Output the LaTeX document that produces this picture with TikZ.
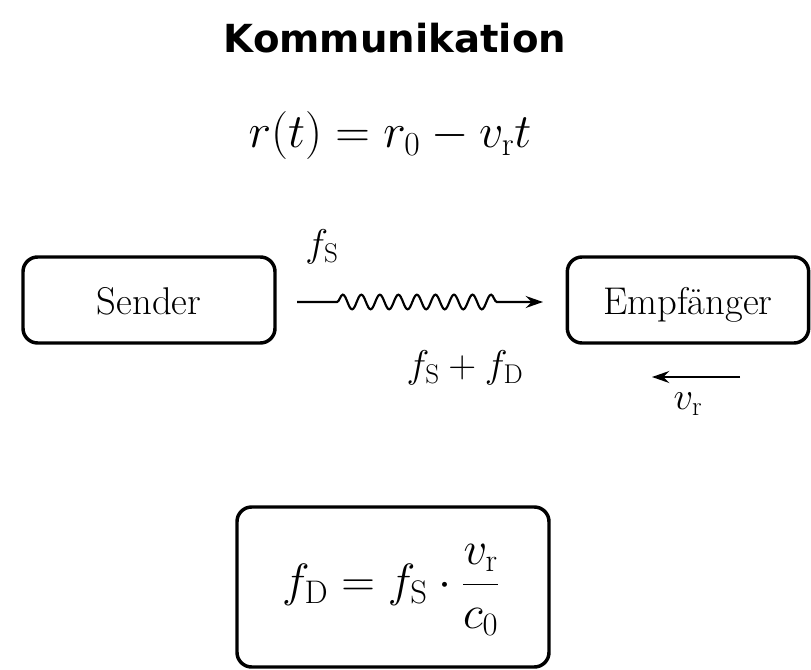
\RequirePackage{fix-cm}
\documentclass[tikz,border=0pt]{standalone}
\usepackage{fontspec}
\newfontfamily\titlefont{DejaVu Sans}
\usetikzlibrary{arrows.meta,decorations.pathmorphing}
\begin{document}
\begin{tikzpicture}[x=0.75pt,y=-0.75pt,
  box/.style={draw,line width=2.6pt,rounded corners=11pt,inner sep=0pt},
  lbl/.style={inner sep=0pt,font=\fontsize{29}{34}\selectfont},
  tip/.style={-{Stealth[length=13pt,width=9pt,inset=4.5pt]}},
  conn/.style={line width=1.6pt}]
\useasboundingbox (0,0) rectangle (811,670);
\node[inner sep=0pt,font=\titlefont\bfseries\fontsize{29}{34}\selectfont] (title) at (395,38) {Kommunikation};
\node[inner sep=0pt,anchor=base,font=\fontsize{36}{42}\selectfont] (eq) at (390,148) {$r(t) = r_0 - v_{\mathrm{r}}t$};
\node[box,minimum width=189pt,minimum height=64.5pt] (send) at (149,300) {};
\node[lbl,anchor=base] (sendt) at (149,315) {Sender};
\node[box,minimum width=181pt,minimum height=64.5pt] (emp) at (688,300) {};
\node[lbl,anchor=base] (empt) at (688,315) {Empfänger};
\coordinate (ws) at (297,302);
\coordinate (we) at (543,302);
\draw[conn,tip,decorate,decoration={snake,amplitude=5.5pt,segment length=13.9pt,pre length=30pt,post length=28pt}] (ws) -- (we);
\node[lbl] (fs) at (322,247) {$f_{\mathrm{S}}$};
\node[lbl] (fsd) at (465,368) {$f_{\mathrm{S}} + f_{\mathrm{D}}$};
\coordinate (va) at (740,377);
\coordinate (vb) at (652,377);
\draw[conn,tip] (va) -- (vb);
\node[lbl] (vr) at (688,404) {$v_{\mathrm{r}}$};
\node[box,minimum width=234pt,minimum height=120pt] (fbox) at (393,587) {};
\node[inner sep=0pt,font=\fontsize{35}{42}\selectfont] (form) at (391,590) {$\displaystyle f_{\mathrm{D}} = f_{\mathrm{S}}\cdot\frac{v_{\mathrm{r}}}{c_0}$};
\end{tikzpicture}
\end{document}
